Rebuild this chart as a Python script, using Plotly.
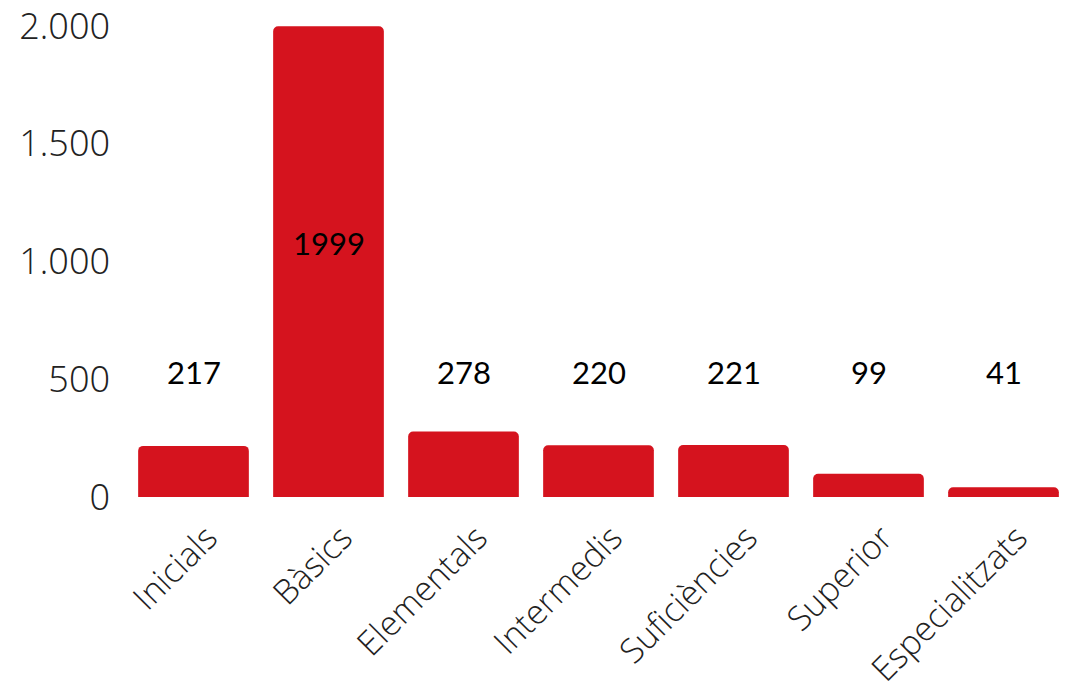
import plotly.graph_objects as go

categories = ["Inicials", "Bàsics", "Elementals", "Intermedis", "Suficiències", "Superior", "Especialitzats"]
values = [217, 1999, 278, 220, 221, 99, 41]
tick_vals = [0, 500, 1000, 1500, 2000]
tick_text = ["0", "500", "1.000", "1.500", "2.000"]

BAR_COLOR = "#D5131E"
LIGHT_FONT = "Open Sans Light, Open Sans"

fig = go.Figure()
fig.add_trace(go.Bar(
    x=categories,
    y=values,
    marker=dict(color=BAR_COLOR, line=dict(width=0)),
    hoverinfo="x+y",
))

# data labels: inside the tall bar, at a common height above the short ones
for c, v in zip(categories, values):
    ly = max(v * 0.54, 530)
    fig.add_annotation(
        x=c, y=ly, text=str(v), showarrow=False,
        xanchor="center", yanchor="middle",
        font=dict(family="Lato", size=31, color="#000000"),
    )

fig.update_layout(
    width=1067, height=699,
    margin=dict(l=118, r=4, t=18, b=210),
    paper_bgcolor="white", plot_bgcolor="white",
    bargap=0.18,
    barcornerradius=5,
    showlegend=False,
    font=dict(family="Open Sans", color="#222222"),
)
fig.update_xaxes(
    range=[-0.5, 6.5],
    tickangle=-45,
    tickfont=dict(family=LIGHT_FONT, size=34, color="#222222", weight=300),
    ticklabelstandoff=13,
    ticklabelshift=14,
    ticklabeloverflow="allow",
    automargin=False,
    showline=False, showgrid=False, ticks="",
)
fig.update_yaxes(
    range=[0, 2000],
    tickvals=tick_vals, ticktext=tick_text,
    tickfont=dict(family=LIGHT_FONT, size=36, color="#222222", weight=300),
    ticklabelstandoff=15,
    ticklabeloverflow="allow",
    automargin=False,
    showgrid=False, zeroline=False, showline=False, ticks="",
)

fig.write_html("out.html")
